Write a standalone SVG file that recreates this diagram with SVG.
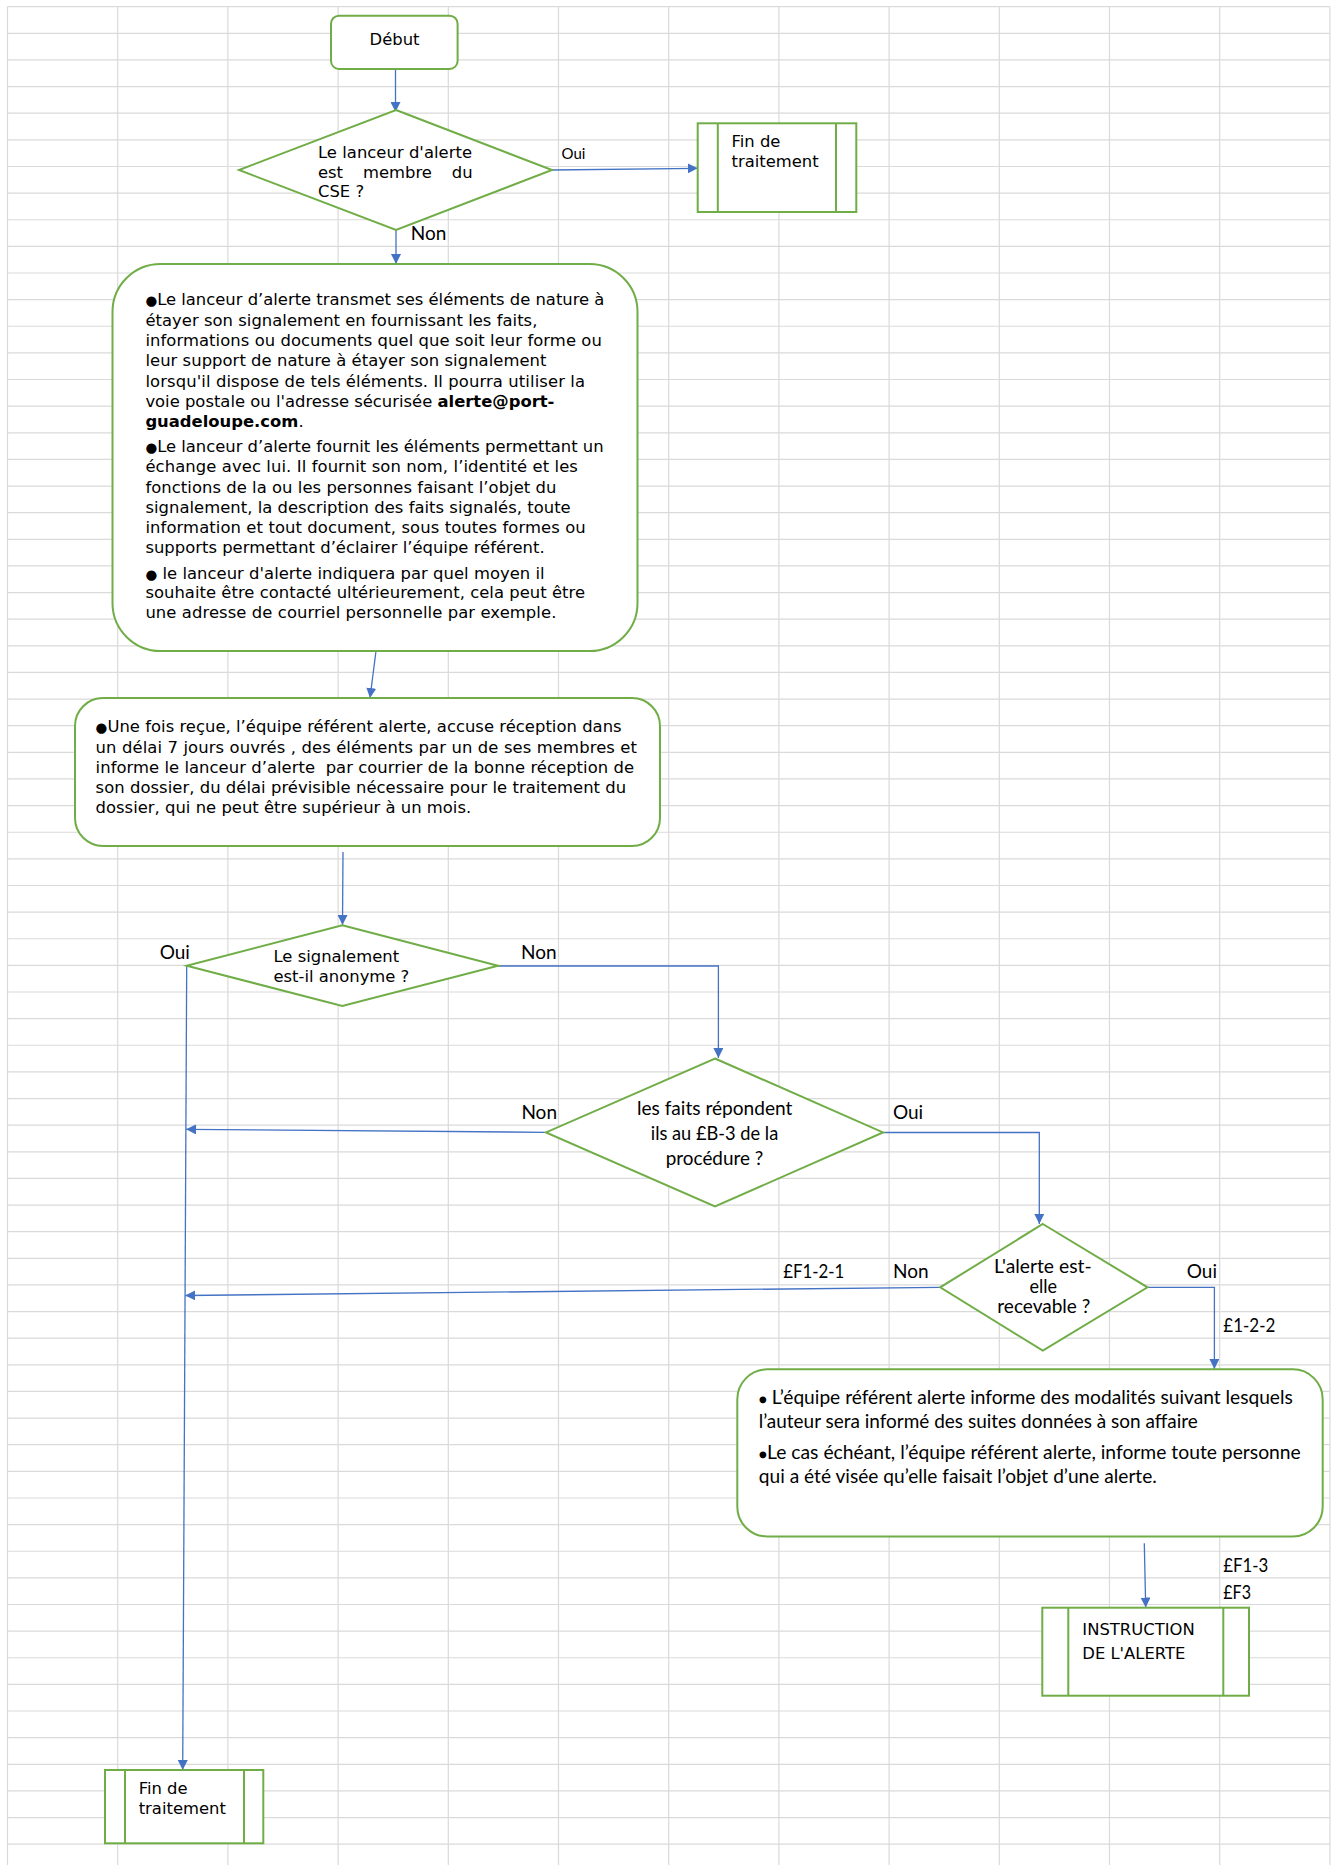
<svg xmlns="http://www.w3.org/2000/svg" width="1336" height="1865" viewBox="0 0 1336 1865">
<defs>
<style>
.grid{stroke:#dadada;stroke-width:1.2;fill:none}
.n{fill:#fff;stroke:#70ad47;stroke-width:2}
.c{fill:none;stroke:#4472c4;stroke-width:1.3;marker-end:url(#ah)}
.t{font-family:'DejaVu Sans',Verdana,sans-serif;font-size:16.4px;fill:#000}
.k{font-family:Lato,'Liberation Sans',sans-serif;font-size:19px;fill:#000}
.b{font-size:13.5px}
.bold{font-weight:bold}
</style>
<marker id="ah" markerUnits="userSpaceOnUse" markerWidth="11" markerHeight="10" refX="10" refY="5" orient="auto">
<path d="M0,0 L10,5 L0,10 z" fill="#4472c4"/>
</marker>
</defs>
<rect x="0" y="0" width="1336" height="1865" fill="#fff"/>
<g id="grid" class="grid">
<path d="M7.5,6.7V1865M117.7,6.7V1865M227.9,6.7V1865M338.1,6.7V1865M448.3,6.7V1865M558.5,6.7V1865M668.7,6.7V1865M778.9,6.7V1865M889.1,6.7V1865M999.3,6.7V1865M1109.5,6.7V1865M1219.7,6.7V1865M1329.9,6.7V1865"/>
<path d="M7.5,6.7H1330M7.5,33.33H1330M7.5,59.96H1330M7.5,86.59H1330M7.5,113.22H1330M7.5,139.85H1330M7.5,166.48H1330M7.5,193.11H1330M7.5,219.74H1330M7.5,246.37H1330M7.5,273H1330M7.5,299.63H1330M7.5,326.26H1330M7.5,352.89H1330M7.5,379.52H1330M7.5,406.15H1330M7.5,432.78H1330M7.5,459.41H1330M7.5,486.04H1330M7.5,512.67H1330M7.5,539.3H1330M7.5,565.93H1330M7.5,592.56H1330M7.5,619.19H1330M7.5,645.82H1330M7.5,672.45H1330M7.5,699.08H1330M7.5,725.71H1330M7.5,752.34H1330M7.5,778.97H1330M7.5,805.6H1330M7.5,832.23H1330M7.5,858.86H1330M7.5,885.49H1330M7.5,912.12H1330M7.5,938.75H1330M7.5,965.38H1330M7.5,992.01H1330M7.5,1018.64H1330M7.5,1045.27H1330M7.5,1071.9H1330M7.5,1098.53H1330M7.5,1125.16H1330M7.5,1151.79H1330M7.5,1178.42H1330M7.5,1205.05H1330M7.5,1231.68H1330M7.5,1258.31H1330M7.5,1284.94H1330M7.5,1311.57H1330M7.5,1338.2H1330M7.5,1364.83H1330M7.5,1391.46H1330M7.5,1418.09H1330M7.5,1444.72H1330M7.5,1471.35H1330M7.5,1497.98H1330M7.5,1524.61H1330M7.5,1551.24H1330M7.5,1577.87H1330M7.5,1604.5H1330M7.5,1631.13H1330M7.5,1657.76H1330M7.5,1684.39H1330M7.5,1711.02H1330M7.5,1737.65H1330M7.5,1764.28H1330M7.5,1790.91H1330M7.5,1817.54H1330M7.5,1844.17H1330"/>
</g>

<g id="connectors">
<path class="c" d="M395.5,69 L395.5,112"/>
<path class="c" d="M552,170 L697.7,168.3"/>
<path class="c" d="M396,230 L396,264"/>
<path class="c" d="M376,651 L370,698"/>
<path class="c" d="M343,852 L342.5,925"/>
<path class="c" d="M186.7,966 L182.7,1770"/>
<path class="c" d="M498,966 L718.4,966 L718.4,1058"/>
<path class="c" d="M546,1132.3 L186,1129.3"/>
<path class="c" d="M883,1132.5 L1039.3,1132.5 L1039.3,1224"/>
<path class="c" d="M940.2,1287.3 L185.2,1295.5"/>
<path class="c" d="M1147.5,1287.3 L1214.4,1287.3 L1214.4,1369"/>
<path class="c" d="M1144.3,1543.3 L1145.7,1607.5"/>
</g>

<g id="debut">
<rect class="n" x="331" y="15.7" width="126.6" height="53.3" rx="8"/>
<text class="t" x="394.5" y="45" text-anchor="middle">Début</text>
</g>

<g id="decision-cse">
<polygon class="n" points="396,110 552,170 396,230 239,170"/>
<text class="t" x="318" y="158" textLength="154" lengthAdjust="spacing">Le lanceur d'alerte</text>
<text class="t" x="318" y="177.5" style="word-spacing:14.7px">est membre du</text>
<text class="t" x="318" y="197">CSE ?</text>
</g>

<g id="fin-1">
<rect class="n" x="697.7" y="123.3" width="158.6" height="88.7"/>
<line class="n" x1="717.8" y1="123.3" x2="717.8" y2="212"/>
<line class="n" x1="836" y1="123.3" x2="836" y2="212"/>
<text class="t" x="731.5" y="146.7">Fin de</text>
<text class="t" x="731.5" y="166.7">traitement</text>
</g>

<g id="box-transmission">
<rect class="n" x="112.5" y="264" width="525" height="387" rx="48"/>
<text class="t" x="145.4" y="305" textLength="459" lengthAdjust="spacing"><tspan class="b">●</tspan>Le lanceur d’alerte transmet ses éléments de nature à</text>
<text class="t" x="145.4" y="325.5" textLength="392" lengthAdjust="spacing">étayer son signalement en fournissant les faits,</text>
<text class="t" x="145.4" y="346" textLength="456.4" lengthAdjust="spacing">informations ou documents quel que soit leur forme ou</text>
<text class="t" x="145.4" y="366.3" textLength="401" lengthAdjust="spacing">leur support de nature à étayer son signalement</text>
<text class="t" x="145.4" y="386.6" textLength="439.6" lengthAdjust="spacing">lorsqu'il dispose de tels éléments. Il pourra utiliser la</text>
<text class="t" x="145.4" y="406.9" textLength="409" lengthAdjust="spacing">voie postale ou l'adresse sécurisée <tspan class="bold">alerte@port-</tspan></text>
<text class="t" x="145.4" y="427.2"><tspan class="bold">guadeloupe.com</tspan>.</text>
<text class="t" x="145.4" y="452" textLength="458.2" lengthAdjust="spacing"><tspan class="b">●</tspan>Le lanceur d’alerte fournit les éléments permettant un</text>
<text class="t" x="145.4" y="472.3" textLength="432.5" lengthAdjust="spacing">échange avec lui. Il fournit son nom, l’identité et les</text>
<text class="t" x="145.4" y="492.6" textLength="411" lengthAdjust="spacing">fonctions de la ou les personnes faisant l’objet du</text>
<text class="t" x="145.4" y="512.9" textLength="425.3" lengthAdjust="spacing">signalement, la description des faits signalés, toute</text>
<text class="t" x="145.4" y="533.2" textLength="440.3" lengthAdjust="spacing">information et tout document, sous toutes formes ou</text>
<text class="t" x="145.4" y="553.2" textLength="399.2" lengthAdjust="spacing">supports permettant d’éclairer l’équipe référent.</text>
<text class="t" x="145.4" y="578.5" textLength="399.2" lengthAdjust="spacing"><tspan class="b">●</tspan> le lanceur d'alerte indiquera par quel moyen il</text>
<text class="t" x="145.4" y="598" textLength="439.6" lengthAdjust="spacing">souhaite être contacté ultérieurement, cela peut être</text>
<text class="t" x="145.4" y="618" textLength="411" lengthAdjust="spacing">une adresse de courriel personnelle par exemple.</text>
</g>

<g id="box-reception">
<rect class="n" x="75" y="698" width="585" height="148" rx="28"/>
<text class="t" x="95.6" y="732" textLength="526" lengthAdjust="spacing"><tspan class="b">●</tspan>Une fois reçue, l’équipe référent alerte, accuse réception dans</text>
<text class="t" x="95.6" y="753" textLength="541.4" lengthAdjust="spacing">un délai 7 jours ouvrés , des éléments par un de ses membres et</text>
<text class="t" x="95.6" y="773" textLength="538.4" lengthAdjust="spacing" style="white-space:pre">informe le lanceur d’alerte  par courrier de la bonne réception de</text>
<text class="t" x="95.6" y="793" textLength="530.6" lengthAdjust="spacing">son dossier, du délai prévisible nécessaire pour le traitement du</text>
<text class="t" x="95.6" y="813" textLength="375.6" lengthAdjust="spacing">dossier, qui ne peut être supérieur à un mois.</text>
</g>

<g id="decision-anonyme">
<polygon class="n" points="342.3,925.3 498,965.7 342.3,1006 186.7,965.7"/>
<text class="t" x="273.5" y="961.7">Le signalement</text>
<text class="t" x="273.5" y="981.7">est-il anonyme ?</text>
</g>

<g id="decision-faits">
<polygon class="n" points="715,1058.5 883,1132.4 715,1206.5 546,1132.4"/>
<text class="k" x="714.7" y="1115" text-anchor="middle" textLength="155.5" lengthAdjust="spacingAndGlyphs">les faits répondent</text>
<text class="k" x="714.5" y="1140" text-anchor="middle" textLength="127.5" lengthAdjust="spacingAndGlyphs">ils au £B-3 de la</text>
<text class="k" x="714.5" y="1165" text-anchor="middle" textLength="97.5" lengthAdjust="spacingAndGlyphs">procédure ?</text>
</g>

<g id="decision-recevable">
<polygon class="n" points="1042.8,1224 1147.5,1287.3 1042.8,1350.7 940.2,1287.3"/>
<text class="k" x="1042.8" y="1273" text-anchor="middle" textLength="97.5" lengthAdjust="spacingAndGlyphs">L'alerte est-</text>
<text class="k" x="1043.2" y="1293" text-anchor="middle" textLength="27.6" lengthAdjust="spacingAndGlyphs">elle</text>
<text class="k" x="1043.8" y="1313" text-anchor="middle" textLength="93" lengthAdjust="spacingAndGlyphs">recevable ?</text>
</g>

<g id="box-modalites">
<rect class="n" x="737.3" y="1369.3" width="585.4" height="167.2" rx="30"/>
<text class="k" x="758.8" y="1403.5" textLength="534" lengthAdjust="spacingAndGlyphs"><tspan class="b">●</tspan> L’équipe référent alerte informe des modalités suivant lesquels</text>
<text class="k" x="758.8" y="1428" textLength="439" lengthAdjust="spacingAndGlyphs">l’auteur sera informé des suites données à son affaire</text>
<text class="k" x="758.8" y="1458.5" textLength="542" lengthAdjust="spacingAndGlyphs"><tspan class="b">●</tspan>Le cas échéant, l’équipe référent alerte, informe toute personne</text>
<text class="k" x="758.8" y="1483" textLength="398" lengthAdjust="spacingAndGlyphs">qui a été visée qu’elle faisait l’objet d’une alerte.</text>
</g>

<g id="instruction">
<rect class="n" x="1042.3" y="1607.7" width="206.7" height="88"/>
<line class="n" x1="1068.3" y1="1607.7" x2="1068.3" y2="1695.7"/>
<line class="n" x1="1223.3" y1="1607.7" x2="1223.3" y2="1695.7"/>
<text class="t" x="1082.3" y="1635">INSTRUCTION</text>
<text class="t" x="1082.3" y="1659">DE L'ALERTE</text>
</g>

<g id="fin-2">
<rect class="n" x="105" y="1770" width="158.3" height="73.3"/>
<line class="n" x1="125" y1="1770" x2="125" y2="1843.3"/>
<line class="n" x1="244" y1="1770" x2="244" y2="1843.3"/>
<text class="t" x="138.7" y="1794.3">Fin de</text>
<text class="t" x="138.7" y="1814.3">traitement</text>
</g>

<g id="labels">
<text class="k" x="561.6" y="159" style="font-size:15px">Oui</text>
<text class="k" x="410.7" y="240">Non</text>
<text class="k" x="159.7" y="959.3">Oui</text>
<text class="k" x="521" y="959.3">Non</text>
<text class="k" x="521.4" y="1119">Non</text>
<text class="k" x="892.9" y="1119">Oui</text>
<text class="k" x="783.2" y="1278.3" textLength="61" lengthAdjust="spacingAndGlyphs">£F1-2-1</text>
<text class="k" x="893" y="1278.3">Non</text>
<text class="k" x="1186.8" y="1278.3">Oui</text>
<text class="k" x="1223.3" y="1331.7" textLength="52" lengthAdjust="spacingAndGlyphs">£1-2-2</text>
<text class="k" x="1223.3" y="1571.7" textLength="45" lengthAdjust="spacingAndGlyphs">£F1-3</text>
<text class="k" x="1223.3" y="1599" textLength="27.7" lengthAdjust="spacingAndGlyphs">£F3</text>
</g>
</svg>
